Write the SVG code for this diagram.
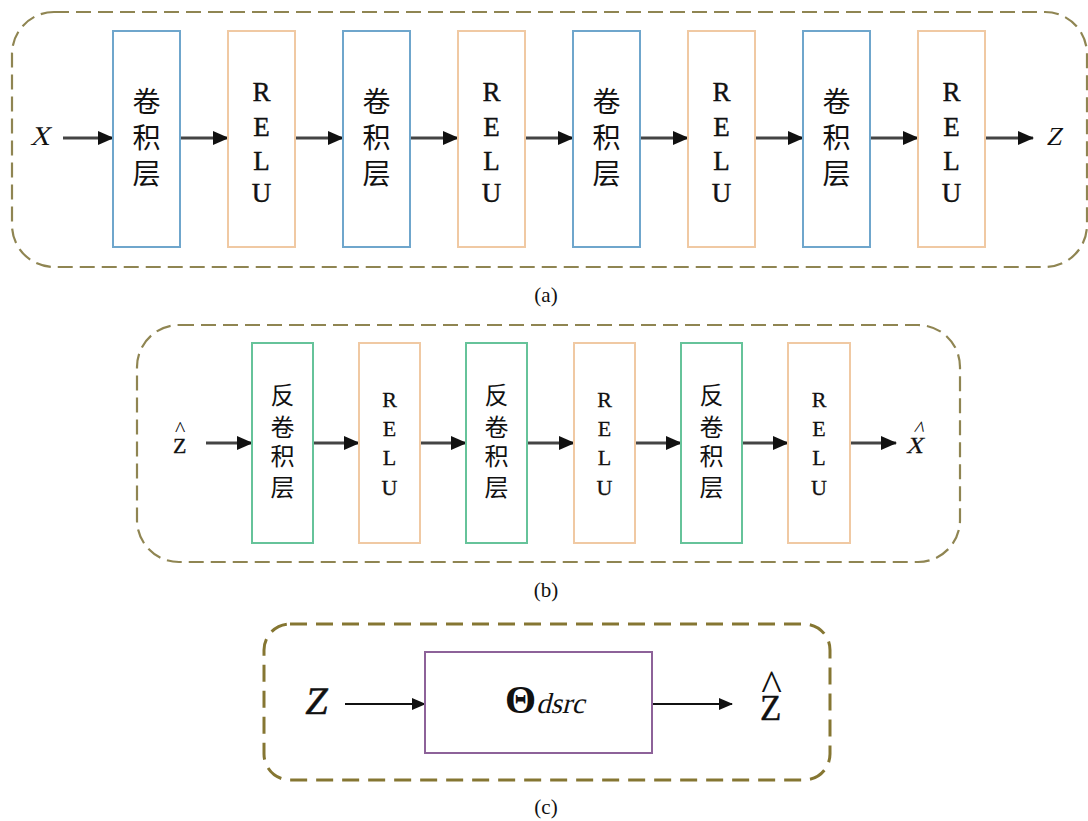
<svg xmlns="http://www.w3.org/2000/svg" width="1088" height="821" viewBox="0 0 1088 821">
<defs>
<marker id="ah" markerUnits="userSpaceOnUse" markerWidth="16" markerHeight="14" refX="15" refY="7" orient="auto"><path d="M0,0 L16,7 L0,14 Z" fill="#111"/></marker>
<marker id="ahs" markerUnits="userSpaceOnUse" markerWidth="14" markerHeight="12" refX="13" refY="6" orient="auto"><path d="M0,0 L14,6 L0,12 Z" fill="#111"/></marker>
<style>
.panel{fill:none;stroke:#8f8552;stroke-width:2.2;stroke-dasharray:15 7}
.panelc{fill:none;stroke:#857632;stroke-width:3;stroke-dasharray:17 9}
.conv{fill:#fff;stroke:#6fa6cc;stroke-width:2}
.relu{fill:#fff;stroke:#f0c9a3;stroke-width:2}
.deconv{fill:#fff;stroke:#66c39a;stroke-width:2}
.theta{fill:#fff;stroke:#8d6299;stroke-width:2}
.cn{font-family:"Noto Sans CJK SC",sans-serif;font-size:28px;fill:#111;text-anchor:middle}
.cnb{font-family:"Noto Sans CJK SC",sans-serif;font-size:24px;fill:#111;text-anchor:middle}
.rl{font-family:"Liberation Serif",serif;font-size:27px;fill:#111;stroke:#111;stroke-width:0.4;text-anchor:middle}
.rlb{font-family:"Liberation Serif",serif;font-size:22px;fill:#111;stroke:#111;stroke-width:0.3;text-anchor:middle}
.var{font-family:"Liberation Serif",serif;fill:#111}
.cap{font-family:"Liberation Serif",serif;font-size:21px;fill:#111;text-anchor:middle}
.arr{stroke:#444;stroke-width:3;marker-end:url(#ah)}
.arrc{stroke:#111;stroke-width:2;marker-end:url(#ahs)}
</style>
</defs>

<g id="panel-a">
<rect class="panel" x="12" y="12" width="1075" height="255" rx="42"/>
</g>
<g id="panel-b">
<rect class="panel" x="137" y="325" width="823" height="237" rx="42"/>
</g>
<g id="panel-c">
<rect class="panelc" x="264" y="624" width="566" height="156" rx="26"/>
</g>

<g id="connectors">
<line class="arr" x1="63" y1="138" x2="113" y2="138"/>
<line class="arr" x1="180" y1="138" x2="228" y2="138"/>
<line class="arr" x1="295" y1="138" x2="343" y2="138"/>
<line class="arr" x1="410" y1="138" x2="458" y2="138"/>
<line class="arr" x1="525" y1="138" x2="573" y2="138"/>
<line class="arr" x1="640" y1="138" x2="688" y2="138"/>
<line class="arr" x1="755" y1="138" x2="803" y2="138"/>
<line class="arr" x1="870" y1="138" x2="918" y2="138"/>
<line class="arr" x1="985" y1="138" x2="1033" y2="138"/>

<line class="arr" x1="206" y1="443" x2="252" y2="443"/>
<line class="arr" x1="313" y1="443" x2="359" y2="443"/>
<line class="arr" x1="420" y1="443" x2="466" y2="443"/>
<line class="arr" x1="528" y1="443" x2="574" y2="443"/>
<line class="arr" x1="635" y1="443" x2="681" y2="443"/>
<line class="arr" x1="742" y1="443" x2="788" y2="443"/>
<line class="arr" x1="850" y1="443" x2="896" y2="443"/>

<line class="arrc" x1="345" y1="704" x2="425" y2="704"/>
<line class="arrc" x1="652" y1="704" x2="732" y2="704"/>
</g>

<g id="a-input"><text class="var" font-size="27" transform="translate(30 145) skewX(-14)">X</text></g>
<g id="a-conv1"><rect class="conv" x="113" y="31" width="67" height="216"/><text class="cn"><tspan x="146.5" y="112">卷</tspan><tspan x="146.5" y="148">积</tspan><tspan x="146.5" y="184">层</tspan></text></g>
<g id="a-relu1"><rect class="relu" x="228" y="31" width="67" height="216"/><text class="rl"><tspan x="261.5" y="101">R</tspan><tspan x="261.5" y="136">E</tspan><tspan x="261.5" y="170">L</tspan><tspan x="261.5" y="202">U</tspan></text></g>
<g id="a-conv2"><rect class="conv" x="343" y="31" width="67" height="216"/><text class="cn"><tspan x="376.5" y="112">卷</tspan><tspan x="376.5" y="148">积</tspan><tspan x="376.5" y="184">层</tspan></text></g>
<g id="a-relu2"><rect class="relu" x="458" y="31" width="67" height="216"/><text class="rl"><tspan x="491.5" y="101">R</tspan><tspan x="491.5" y="136">E</tspan><tspan x="491.5" y="170">L</tspan><tspan x="491.5" y="202">U</tspan></text></g>
<g id="a-conv3"><rect class="conv" x="573" y="31" width="67" height="216"/><text class="cn"><tspan x="606.5" y="112">卷</tspan><tspan x="606.5" y="148">积</tspan><tspan x="606.5" y="184">层</tspan></text></g>
<g id="a-relu3"><rect class="relu" x="688" y="31" width="67" height="216"/><text class="rl"><tspan x="721.5" y="101">R</tspan><tspan x="721.5" y="136">E</tspan><tspan x="721.5" y="170">L</tspan><tspan x="721.5" y="202">U</tspan></text></g>
<g id="a-conv4"><rect class="conv" x="803" y="31" width="67" height="216"/><text class="cn"><tspan x="836.5" y="112">卷</tspan><tspan x="836.5" y="148">积</tspan><tspan x="836.5" y="184">层</tspan></text></g>
<g id="a-relu4"><rect class="relu" x="918" y="31" width="67" height="216"/><text class="rl"><tspan x="951.5" y="101">R</tspan><tspan x="951.5" y="136">E</tspan><tspan x="951.5" y="170">L</tspan><tspan x="951.5" y="202">U</tspan></text></g>
<g id="a-output"><text class="var" font-size="26" transform="translate(1046 145) skewX(-12)">Z</text></g>
<g id="a-caption"><text class="cap" x="546" y="302">(a)</text></g>

<g id="b-input"><text class="var" x="173" y="453" font-size="22" stroke="#111" stroke-width="0.3">Z<tspan dx="-11.5" dy="-17" stroke-width="0">^</tspan></text></g>
<g id="b-deconv1"><rect class="deconv" x="252" y="343" width="61" height="200"/><text class="cnb"><tspan x="282.5" y="404">反</tspan><tspan x="282.5" y="436">卷</tspan><tspan x="282.5" y="465">积</tspan><tspan x="282.5" y="496">层</tspan></text></g>
<g id="b-relu1"><rect class="relu" x="359" y="343" width="61" height="200"/><text class="rlb"><tspan x="389.5" y="407">R</tspan><tspan x="389.5" y="436">E</tspan><tspan x="389.5" y="465">L</tspan><tspan x="389.5" y="495">U</tspan></text></g>
<g id="b-deconv2"><rect class="deconv" x="466" y="343" width="61" height="200"/><text class="cnb"><tspan x="496.5" y="404">反</tspan><tspan x="496.5" y="436">卷</tspan><tspan x="496.5" y="465">积</tspan><tspan x="496.5" y="496">层</tspan></text></g>
<g id="b-relu2"><rect class="relu" x="574" y="343" width="61" height="200"/><text class="rlb"><tspan x="604.5" y="407">R</tspan><tspan x="604.5" y="436">E</tspan><tspan x="604.5" y="465">L</tspan><tspan x="604.5" y="495">U</tspan></text></g>
<g id="b-deconv3"><rect class="deconv" x="681" y="343" width="61" height="200"/><text class="cnb"><tspan x="711.5" y="404">反</tspan><tspan x="711.5" y="436">卷</tspan><tspan x="711.5" y="465">积</tspan><tspan x="711.5" y="496">层</tspan></text></g>
<g id="b-relu3"><rect class="relu" x="788" y="343" width="62" height="200"/><text class="rlb"><tspan x="819" y="407">R</tspan><tspan x="819" y="436">E</tspan><tspan x="819" y="465">L</tspan><tspan x="819" y="495">U</tspan></text></g>
<g id="b-output"><text class="var" font-size="23" stroke="#111" stroke-width="0.3" transform="translate(906 453) skewX(-14)">X<tspan font-size="22" stroke-width="0" dx="-14" dy="-17">^</tspan></text></g>
<g id="b-caption"><text class="cap" x="546" y="597">(b)</text></g>

<g id="c-input"><text class="var" font-size="39" stroke="#111" stroke-width="0.6" transform="translate(304 714) skewX(-8)">Z</text></g>
<g id="c-theta"><rect class="theta" x="425" y="652" width="227" height="101"/><text class="var" x="505" y="713" font-size="40" font-weight="bold">Θ</text><text class="var" font-size="29" transform="translate(536 713) skewX(-14)">dsrc</text></g>
<g id="c-output"><text class="var" x="760" y="720" font-size="35" stroke="#111" stroke-width="0.4">Z<tspan font-size="44" stroke-width="0" dx="-20.2" dy="-20">^</tspan></text></g>
<g id="c-caption"><text class="cap" x="546" y="814">(c)</text></g>
</svg>
